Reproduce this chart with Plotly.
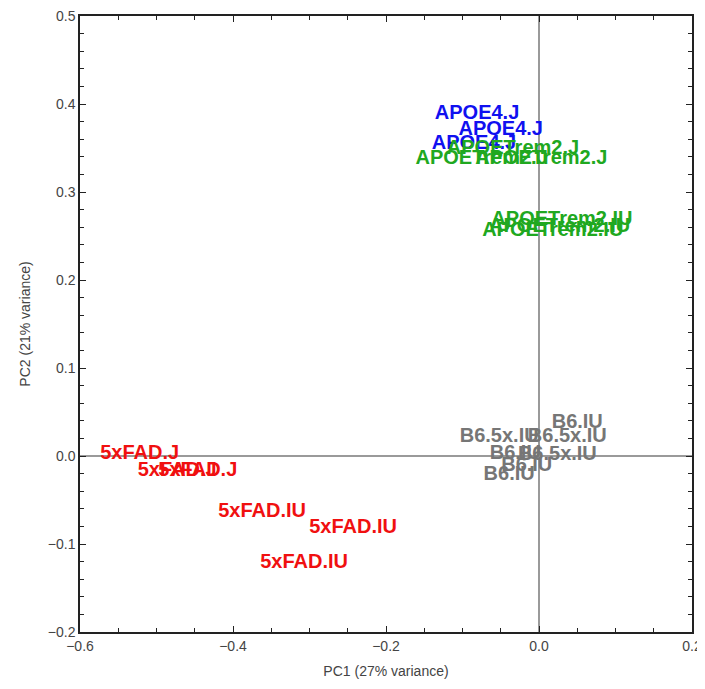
import plotly.graph_objects as go

# ---- data ----
apoe4_j_pc1 = [-0.081, -0.050, -0.085]
apoe4_j_pc2 = [0.389, 0.370, 0.355]

trem2_j_pc1 = [-0.034, -0.075, 0.003]
trem2_j_pc2 = [0.349, 0.338, 0.338]

trem2_iu_pc1 = [0.030, 0.018, 0.027]
trem2_iu_pc2 = [0.268, 0.256, 0.260]

b6_iu_pc1 = [0.050, -0.031, -0.016, -0.039]
b6_iu_pc2 = [0.038, 0.002, -0.011, -0.022]

b65x_iu_pc1 = [-0.052, 0.037, 0.024]
b65x_iu_pc2 = [0.022, 0.022, 0.001]

fad_j_pc1 = [-0.522, -0.473, -0.446]
fad_j_pc2 = [0.002, -0.017, -0.017]

fad_iu_pc1 = [-0.362, -0.243, -0.307]
fad_iu_pc2 = [-0.064, -0.082, -0.122]

groups = [
    ("APOE4.J", apoe4_j_pc1, apoe4_j_pc2, "#1010F0"),
    ("APOETrem2.J", trem2_j_pc1, trem2_j_pc2, "#20A820"),
    ("APOETrem2.IU", trem2_iu_pc1, trem2_iu_pc2, "#20A820"),
    ("B6.IU", b6_iu_pc1, b6_iu_pc2, "#767676"),
    ("B6.5x.IU", b65x_iu_pc1, b65x_iu_pc2, "#767676"),
    ("5xFAD.J", fad_j_pc1, fad_j_pc2, "#F01010"),
    ("5xFAD.IU", fad_iu_pc1, fad_iu_pc2, "#F01010"),
]

x_ticks = [-0.6, -0.4, -0.2, 0.0, 0.2]
y_ticks = [-0.2, -0.1, 0.0, 0.1, 0.2, 0.3, 0.4, 0.5]

fig = go.Figure()
for label, xs, ys, color in groups:
    fig.add_trace(go.Scatter(
        x=xs, y=ys, mode="text",
        text=[label] * len(xs),
        textposition="middle center",
        textfont=dict(family="Liberation Sans", size=20, color=color, weight="bold"),
        showlegend=False, hoverinfo="skip", cliponaxis=False,
    ))

axis_common = dict(
    showgrid=False, automargin=False, ticklabeloverflow="allow",
    zeroline=True, zerolinecolor="#9a9a9a", zerolinewidth=1.5,
    showline=True, linecolor="#222222", linewidth=1.5, mirror="ticks",
    ticks="inside", ticklen=6, tickwidth=1, tickcolor="#222222",
    tickfont=dict(family="Liberation Sans", size=14, color="#444444"),
    title_font=dict(family="Liberation Sans", size=14, color="#444444"),
)

fig.update_xaxes(
    range=[-0.6, 0.2], tickvals=x_ticks, tickformat=".1f",
    minor=dict(dtick=0.05, ticks="inside", ticklen=4, tickcolor="#222222"),
    title_text="PC1 (27% variance)", title_standoff=14,
    **axis_common,
)
fig.update_yaxes(
    range=[-0.2, 0.5], tickvals=y_ticks, tickformat=".1f",
    minor=dict(dtick=0.02, ticks="inside", ticklen=4, tickcolor="#222222"),
    title_text="PC2 (21% variance)", title_standoff=14,
    **axis_common,
)

# page body adds an 8px margin, so the figure is sized to fit inside the window
fig.update_layout(
    width=697, height=673,
    margin=dict(l=72, r=13, t=8, b=49),
    plot_bgcolor="white", paper_bgcolor="white",
)

fig.write_html("out.html")
